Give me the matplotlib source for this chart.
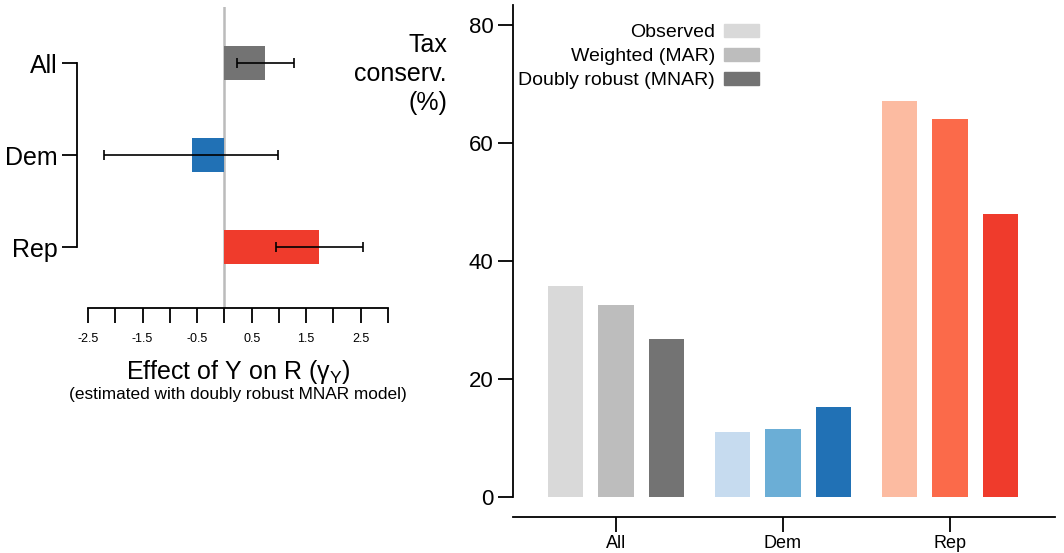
"""Effect of Y on R and tax conservatism by party."""

import matplotlib

matplotlib.use("Agg")
import matplotlib.pyplot as plt
import numpy as np
from matplotlib.patches import Patch

plt.rcParams["font.family"] = ["Liberation Sans", "DejaVu Sans"]
plt.rcParams["mathtext.fontset"] = "custom"
plt.rcParams["mathtext.rm"] = "Liberation Sans"

# data
groups = ["All", "Dem", "Rep"]
effect = [0.745, -0.60, 1.735]
effect_lo = [0.225, -2.21, 0.95]
effect_hi = [1.28, 0.98, 2.55]

methods = ["Observed", "Weighted (MAR)", "Doubly robust (MNAR)"]
observed = [35.7, 11.0, 67.1]
weighted = [32.5, 11.5, 64.0]
doubly_robust = [26.7, 15.2, 47.9]

effect_ticks = np.arange(-2.5, 3.01, 0.5)
effect_ticklabels = ["-2.5", "", "-1.5", "", "-0.5", "", "0.5", "", "1.5", "", "2.5", ""]
pct_ticks = [0, 20, 40, 60, 80]

palette = {
    "All": ["#d9d9d9", "#bdbdbd", "#737373"],
    "Dem": ["#c6dbef", "#6baed6", "#2171b5"],
    "Rep": ["#fcbba1", "#fb6a4a", "#ef3b2c"],
}

W, H = 1064, 553
fig = plt.figure(figsize=(W / 100, H / 100), dpi=100)


def px_axes(x0, y_top, x1, y_bottom):
    return fig.add_axes([x0 / W, 1 - y_bottom / H, (x1 - x0) / W, (y_bottom - y_top) / H])


# ---- left panel: effect estimates
ax1 = px_axes(88, 7, 388, 308)
# spine positions first: set_position resets the tick labels
for side in ["top", "right"]:
    ax1.spines[side].set_visible(False)
ax1.spines["left"].set_position(("outward", 11 * 0.72))

ypos = np.arange(len(groups))
bar_colors = [palette[g][2] for g in groups]
ax1.barh(ypos, effect, height=0.37, color=bar_colors, zorder=2)
xerr = np.array([np.subtract(effect, effect_lo), np.subtract(effect_hi, effect)])
ax1.errorbar(effect, ypos, xerr=xerr, fmt="none", ecolor="black", elinewidth=1.2,
             capsize=3.5, capthick=1.2, zorder=3)
ax1.axvline(0, color="#bbbbbb", lw=1.8, zorder=1)

ax1.set_xlim(-2.5, 3.0)
ax1.set_ylim(2.663, -0.609)
ax1.set_xticks(effect_ticks)
ax1.set_xticklabels(effect_ticklabels, fontsize=9)
ax1.set_yticks(ypos)
ax1.set_yticklabels(groups, fontsize=18)
ax1.spines["left"].set_bounds(0, 2)
ax1.spines["bottom"].set_bounds(-2.5, 3.0)
for sp in ax1.spines.values():
    sp.set_linewidth(1.3)
ax1.tick_params(axis="x", length=11, width=1.3, pad=7)
ax1.tick_params(axis="y", length=11, width=1.3, pad=3)
ax1.set_xlabel("Effect of Y on R (γ$_\\mathrm{Y}$)", fontsize=18, labelpad=9)

fig.text(238 / W, 1 - 394 / H, "(estimated with doubly robust MNAR model)",
         fontsize=12.4, ha="center", va="center")
fig.text(447 / W, 1 - 74 / H, "Tax\nconserv.\n(%)", fontsize=18, ha="right",
         va="center", multialignment="right", linespacing=1.27)

# ---- right panel: tax conservatism
ax2 = px_axes(513, 5, 1055, 497)
for side in ["top", "right"]:
    ax2.spines[side].set_visible(False)
ax2.spines["bottom"].set_position(("outward", 20 * 0.72))

x = np.arange(len(groups))
offsets = [-0.3, 0.0, 0.3]
for k, vals in enumerate([observed, weighted, doubly_robust]):
    cols = [palette[g][k] for g in groups]
    ax2.bar(x + offsets[k], vals, width=0.21, color=cols)

ax2.set_xlim(-0.617, 2.629)
ax2.set_ylim(0, 83.4)
ax2.set_xticks(x)
ax2.set_xticklabels(groups, fontsize=13)
ax2.set_yticks(pct_ticks)
ax2.set_yticklabels([str(t) for t in pct_ticks], fontsize=16)
for sp in ax2.spines.values():
    sp.set_linewidth(1.3)
ax2.tick_params(axis="both", length=11, width=1.3)
ax2.tick_params(axis="x", pad=2)
ax2.tick_params(axis="y", pad=3)

handles = [Patch(color=c) for c in palette["All"]]
fig.legend(handles, methods, loc="upper right", bbox_to_anchor=(759 / W, 1 - 24 / H),
           frameon=False, markerfirst=False, fontsize=14, handlelength=1.8,
           handleheight=0.62, handletextpad=0.45, labelspacing=0.36, borderpad=0,
           borderaxespad=0)

fig.savefig("out.png", dpi=100)
